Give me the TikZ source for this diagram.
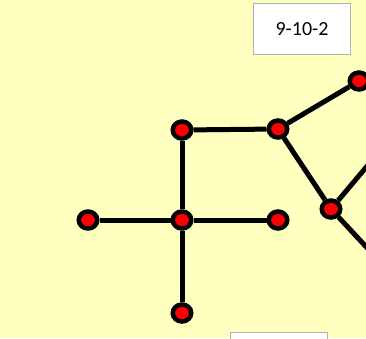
\documentclass[tikz,border=0pt]{standalone}
\usepackage{fontspec}
\setmainfont{Carlito}
\usetikzlibrary{shapes.geometric}
\definecolor{fondo}{RGB}{255,255,192}
\pgfdeclarelayer{fondo}
\pgfdeclarelayer{aristas}
\pgfsetlayers{fondo,aristas,main}
\tikzset{
  vertice/.style={ellipse, draw=black, fill=red, line width=4.5pt, minimum width=18.5pt, minimum height=17pt, inner sep=0pt},
  arista/.style={line width=5pt},
  etiqueta/.style={draw=black!30, fill=white, line width=1pt, minimum width=97pt, minimum height=51pt, inner sep=0pt, font=\fontsize{20}{24}\selectfont}
}
\begin{document}
\begin{tikzpicture}[x=1pt, y=-1pt]
\useasboundingbox (0,0) rectangle (366,338);
\clip (0,0) rectangle (366,338);
\begin{pgfonlayer}{fondo}
	\fill[fondo] (0,0) rectangle (366,338);
\end{pgfonlayer}

% Etiquetas
\node[etiqueta] (t1) at (302,29) {9-10-2};
\node[etiqueta] (t2) at (279,358) {};

% Vertices
\node[vertice] (A) at (182,130) {};
\node[vertice] (B) at (278,129) {};
\node[vertice] (C) at (359,81) {};
\node[vertice] (D) at (331,209) {};
\node[vertice] (E) at (88,220) {};
\node[vertice] (F) at (182,220) {};
\node[vertice] (G) at (278,220) {};
\node[vertice] (H) at (182,313) {};

% Extremos fuera del cuadro
\coordinate (p1) at (384,146);
\coordinate (p2) at (384,266);

% Aristas
\begin{pgfonlayer}{aristas}
	\foreach \a/\b in {A/B, B/C, B/D, A/F, E/F, F/G, F/H, D/p1, D/p2}
		\draw[arista] (\a) -- (\b);
\end{pgfonlayer}
\end{tikzpicture}
\end{document}
